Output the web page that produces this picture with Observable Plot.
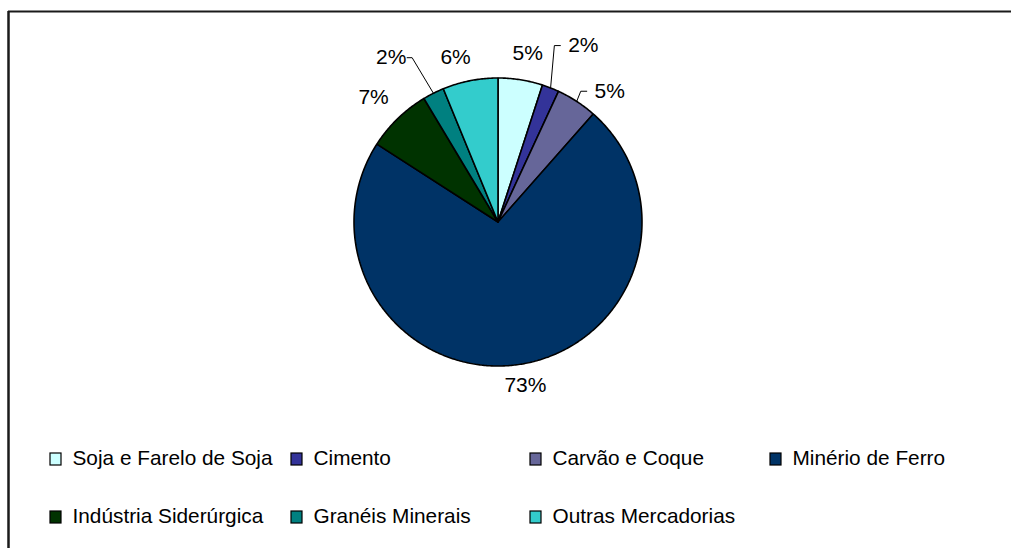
<!DOCTYPE html>
<html>
<head>
<meta charset="utf-8">
<script src="https://cdn.jsdelivr.net/npm/d3@7"></script>
<script src="https://cdn.jsdelivr.net/npm/@observablehq/plot@0.6"></script>
<style>
  html, body { margin: 0; padding: 0; background: #fff; }
  #chart { width: 1011px; height: 548px; overflow: hidden; }
</style>
</head>
<body>
<div id="chart"></div>
<script>
// ---- data ----
const categories = ["Soja e Farelo de Soja", "Cimento", "Carvão e Coque", "Minério de Ferro",
                    "Indústria Siderúrgica", "Granéis Minerais", "Outras Mercadorias"];
const shares = [5.0, 1.9, 4.6, 72.6, 7.3, 2.4, 6.2];
const colors = ["#CCFFFF", "#333399", "#666699", "#003366", "#003300", "#008080", "#33CCCC"];

// ---- layout ----
const W = 1011, H = 548;
const cx = 497.5, cy = 221.5, R = 144;
const labelNudge = [1, 4.4, 7.4, -1.6, -0.9, -6.4, -3.3];   // degrees
const labelDist  = [171, 196, 172, 166, 176, 196, 170];
const hasLeader  = [false, true, true, false, false, true, false];
const legendCols = [50, 291, 530, 770];
const legendRows = [459, 517];
const legendPerRow = 4;

const pie = d3.pie().sort(null).value(d => d)(shares);
const rad = a => a * Math.PI / 180;
const pt = (ang, r) => [cx + r * Math.sin(ang), cy - r * Math.cos(ang)];

// slice polygons
const slicePts = [];
pie.forEach((p, i) => {
  const name = categories[i];
  slicePts.push({name, x: cx, y: cy});
  const n = Math.max(4, Math.ceil((p.endAngle - p.startAngle) / 0.01));
  for (let k = 0; k <= n; k++) {
    const a = p.startAngle + (p.endAngle - p.startAngle) * k / n;
    const [x, y] = pt(a, R);
    slicePts.push({name, x, y});
  }
  slicePts.push({name, x: cx, y: cy});
});

// labels
const labels = pie.map((p, i) => {
  const mid = (p.startAngle + p.endAngle) / 2;
  const [x, y] = pt(mid + rad(labelNudge[i]), labelDist[i]);
  return {x, y, text: Math.round(shares[i]) + "%", mid, i};
});
const leaderPts = [];
labels.forEach(l => {
  if (!hasLeader[l.i]) return;
  const [ax, ay] = pt(l.mid, R);
  const right = l.x > cx;
  const ex = right ? l.x - 29 : l.x + 21;
  const tx = right ? l.x - 23 : l.x + 16;
  leaderPts.push({k: l.i, x: ax, y: ay}, {k: l.i, x: ex, y: l.y}, {k: l.i, x: tx, y: l.y});
});

// legend
const legend = categories.map((name, i) => {
  const col = legendCols[i % legendPerRow];
  const row = legendRows[Math.floor(i / legendPerRow)];
  return {name, x1: col, x2: col + 11, y1: row - 6, y2: row + 6, tx: col + 22, ty: row - 1};
});

const chart = Plot.plot({
  width: W, height: H,
  margin: 0,
  x: {domain: [0, W], range: [0, W], axis: null},
  y: {domain: [0, H], range: [0, H], axis: null},
  color: {domain: categories, range: colors},
  style: {fontFamily: "'Liberation Sans', Arial, sans-serif", background: "#fff"},
  marks: [
    Plot.ruleY([11], {x1: 8, x2: W, stroke: "#1a1a1a", strokeWidth: 2}),
    Plot.ruleX([8], {y1: 11, y2: H, stroke: "#1a1a1a", strokeWidth: 2.5}),
    Plot.line(slicePts, {x: "x", y: "y", z: "name", fill: "name", stroke: "#000", strokeWidth: 1.6, strokeLinejoin: "miter", curve: "linear"}),
    Plot.line(leaderPts, {x: "x", y: "y", z: "k", stroke: "#000", strokeWidth: 1, curve: "linear"}),
    Plot.text(labels, {x: "x", y: "y", text: "text", fontSize: 21, fill: "#000"}),
    Plot.rect(legend, {x1: "x1", x2: "x2", y1: "y1", y2: "y2", fill: "name", stroke: "#000", strokeWidth: 1.2}),
    Plot.text(legend, {x: "tx", y: "ty", text: "name", textAnchor: "start", fontSize: 20.8, fill: "#000"})
  ]
});
document.getElementById("chart").appendChild(chart);
</script>
</body>
</html>
